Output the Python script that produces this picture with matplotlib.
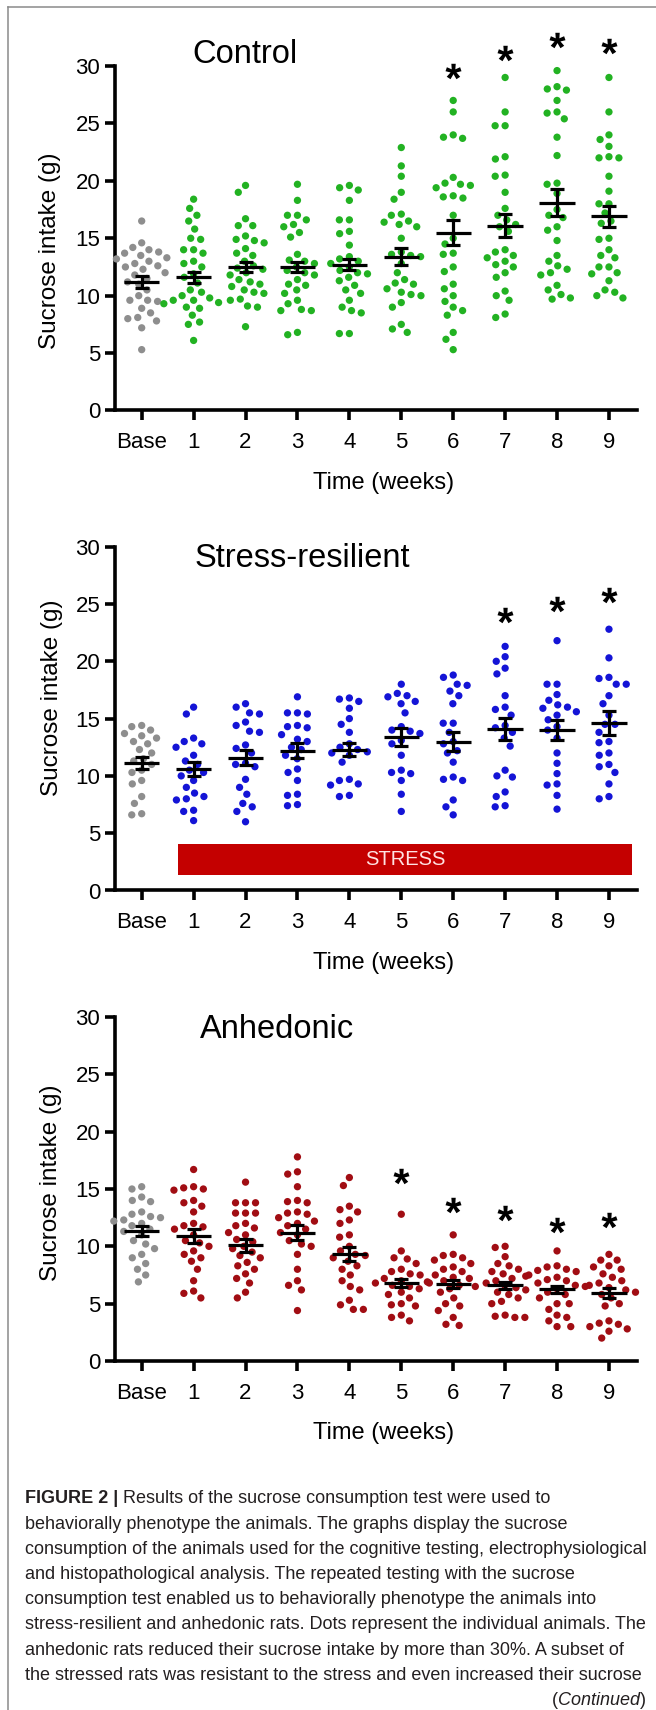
import numpy as np
import matplotlib
matplotlib.use("Agg")
import matplotlib.pyplot as plt
from matplotlib.patches import Rectangle
from matplotlib.lines import Line2D
from matplotlib.path import Path
from matplotlib.textpath import TextPath
from matplotlib.font_manager import FontProperties

plt.rcParams['font.family'] = ['Liberation Sans', 'DejaVu Sans']

# ---------------- data ----------------
categories = ["Base", "1", "2", "3", "4", "5", "6", "7", "8", "9"]
yticks = [0, 5, 10, 15, 20, 25, 30]
panel_titles = ["Control", "Stress-resilient", "Anhedonic"]

control_points = [
    [16.5, 14.6, 14.2, 14.0, 13.8, 13.7, 13.5, 13.3, 13.2, 13.0, 12.8, 12.6, 12.5, 12.3, 12.0, 11.8,
     11.5, 11.2, 11.0, 10.5, 10.0, 9.6, 9.6, 9.5, 8.9, 8.5, 8.1, 8.0, 7.8, 7.2, 5.3],
    [18.4, 17.6, 17.0, 16.5, 15.8, 15.0, 14.9, 14.0, 14.0, 13.7, 13.0, 12.8, 12.5, 11.9, 11.6, 11.1,
     10.5, 10.3, 10.0, 9.8, 9.6, 9.6, 9.4, 9.3, 9.0, 8.9, 8.3, 7.7, 7.5, 6.1],
    [19.6, 19.0, 16.7, 16.1, 16.1, 15.2, 14.9, 14.8, 14.6, 14.1, 13.7, 13.5, 13.0, 12.6, 12.4, 12.3,
     12.0, 11.8, 11.4, 11.2, 11.0, 10.8, 10.5, 10.3, 10.2, 9.7, 9.6, 9.1, 9.0, 7.3],
    [19.7, 18.3, 17.0, 17.0, 16.6, 16.2, 16.0, 15.5, 15.1, 13.6, 13.1, 13.0, 12.8, 12.5, 12.2, 12.0,
     11.8, 11.4, 11.0, 10.9, 10.5, 10.2, 9.6, 9.3, 8.8, 8.7, 8.7, 6.8, 6.6],
    [19.6, 19.4, 19.2, 18.3, 16.6, 16.6, 15.6, 15.4, 14.4, 13.4, 13.2, 13.0, 12.8, 12.5, 12.2, 12.0,
     11.9, 11.6, 11.3, 10.9, 10.5, 10.2, 9.6, 9.0, 8.7, 8.5, 6.7, 6.7],
    [22.9, 21.3, 20.4, 19.0, 18.4, 17.1, 17.0, 16.5, 16.4, 16.2, 16.0, 15.0, 13.8, 13.6, 13.5, 13.4,
     12.8, 12.0, 11.4, 11.1, 11.0, 10.6, 10.3, 10.1, 10.0, 9.4, 9.0, 7.5, 7.1, 6.8],
    [27.0, 26.0, 24.0, 23.8, 23.7, 20.3, 19.8, 19.7, 19.6, 19.4, 18.7, 18.6, 18.5, 17.0, 15.0, 14.5,
     13.7, 13.6, 12.5, 12.1, 11.0, 10.6, 10.0, 9.5, 9.0, 8.7, 8.3, 6.8, 6.2, 5.3],
    [29.0, 26.0, 24.8, 24.8, 22.1, 21.9, 20.5, 20.4, 19.0, 17.6, 17.0, 16.6, 16.2, 16.0, 15.6, 14.0,
     13.8, 13.5, 13.3, 13.0, 12.7, 12.5, 12.0, 11.6, 10.4, 10.0, 9.6, 8.4, 8.1],
    [29.6, 28.2, 28.0, 27.9, 27.0, 26.0, 25.9, 25.4, 23.8, 22.2, 19.8, 19.7, 18.9, 17.5, 17.0, 16.8,
     16.0, 15.7, 14.8, 13.5, 13.0, 12.6, 12.3, 12.0, 11.8, 10.9, 10.5, 10.1, 9.8, 9.7],
    [29.0, 26.0, 24.0, 23.6, 23.0, 22.1, 22.0, 22.0, 20.4, 19.1, 18.0, 18.0, 17.2, 16.5, 16.3, 15.0,
     14.9, 14.0, 13.5, 13.3, 12.5, 12.5, 12.0, 11.9, 11.3, 10.5, 10.3, 10.0, 9.8],
]
control_mean = [11.2, 11.6, 12.5, 12.5, 12.7, 13.4, 15.5, 16.1, 18.1, 16.9]
control_sem = [0.49, 0.5, 0.47, 0.47, 0.5, 0.73, 1.13, 0.97, 1.19, 0.94]
control_sig_weeks = [6, 7, 8, 9]
control_sig_y = [29.6, 31.1, 32.3, 31.7]

resilient_points = [
    [14.4, 14.3, 14.0, 13.7, 13.5, 13.3, 13.0, 12.8, 12.3, 12.0, 11.5, 11.3, 11.0, 10.5, 10.3, 9.6,
     9.3, 8.2, 7.6, 6.7, 6.6],
    [16.0, 15.4, 13.3, 13.0, 12.8, 12.5, 11.8, 11.3, 11.0, 10.5, 10.3, 10.0, 9.6, 9.0, 8.5, 8.2,
     8.0, 7.9, 7.0, 6.9, 6.1],
    [16.3, 16.0, 15.5, 15.4, 14.7, 14.4, 13.9, 13.8, 12.7, 12.4, 12.0, 11.1, 11.0, 10.8, 9.7, 9.0,
     8.4, 7.6, 7.3, 6.9, 6.0],
    [16.9, 15.5, 15.5, 15.4, 14.4, 14.3, 14.2, 13.6, 13.2, 13.0, 12.5, 12.3, 11.8, 11.5, 10.6, 10.3,
     9.6, 8.4, 8.3, 7.5, 7.4],
    [16.8, 16.7, 16.5, 15.9, 15.0, 14.5, 13.8, 12.8, 12.5, 12.3, 12.1, 12.0, 11.8, 11.2, 9.7, 9.6,
     9.3, 9.2, 8.3, 8.2],
    [18.0, 17.2, 17.0, 16.9, 16.5, 16.3, 15.5, 14.3, 14.0, 13.9, 13.7, 13.1, 12.8, 11.8, 10.5, 10.3,
     10.2, 9.6, 8.4, 6.9],
    [18.8, 18.6, 18.0, 17.9, 17.4, 17.0, 16.3, 14.6, 14.6, 13.8, 13.0, 12.8, 12.2, 12.0, 11.2, 9.9,
     9.7, 9.6, 7.9, 7.3, 6.6],
    [21.3, 20.4, 20.0, 19.4, 18.9, 17.0, 16.0, 15.8, 15.3, 14.4, 14.2, 13.8, 13.3, 12.6, 10.5, 10.0,
     9.9, 8.6, 8.2, 7.4, 7.3],
    [21.8, 18.0, 18.0, 17.1, 16.6, 16.2, 16.0, 15.9, 15.6, 15.3, 14.9, 14.3, 14.0, 13.3, 12.0, 11.1,
     10.2, 9.3, 9.2, 8.3, 7.1],
    [22.8, 20.3, 18.6, 18.5, 18.0, 18.0, 17.0, 16.3, 15.3, 14.5, 14.5, 13.8, 13.0, 12.9, 12.0, 11.8,
     11.0, 10.8, 10.3, 9.3, 8.2, 8.0],
]
resilient_mean = [11.1, 10.6, 11.6, 12.2, 12.3, 13.4, 13.0, 14.1, 14.0, 14.6]
resilient_sem = [0.52, 0.58, 0.68, 0.65, 0.6, 0.75, 0.87, 0.99, 0.87, 1.02]
resilient_sig_weeks = [7, 8, 9]
resilient_sig_y = [24.0, 25.0, 25.8]

anhedonic_points = [
    [15.2, 15.0, 14.3, 14.0, 13.9, 13.0, 12.8, 12.6, 12.5, 12.3, 12.2, 12.0, 11.8, 11.5, 11.3, 11.0,
     10.5, 10.2, 9.8, 9.3, 9.0, 8.5, 8.0, 7.5, 6.9],
    [16.7, 15.2, 15.1, 15.0, 14.9, 14.0, 13.8, 13.5, 13.0, 12.0, 11.8, 11.7, 11.5, 11.0, 10.5, 10.3,
     10.0, 9.6, 9.3, 9.0, 8.7, 8.0, 7.0, 6.1, 5.9, 5.5],
    [15.6, 13.8, 13.8, 13.8, 12.9, 12.9, 12.9, 12.0, 11.8, 11.6, 11.2, 11.0, 10.6, 10.4, 10.0, 9.8,
     9.5, 9.2, 9.0, 8.6, 8.3, 8.0, 7.6, 7.2, 6.8, 6.0, 5.5],
    [17.8, 16.5, 16.3, 15.2, 14.0, 13.9, 13.8, 13.0, 12.9, 12.8, 12.5, 12.2, 12.0, 11.8, 11.5, 11.2,
     11.0, 10.5, 10.2, 10.0, 9.3, 8.0, 7.0, 6.6, 6.2, 4.4],
    [16.0, 15.3, 13.5, 13.2, 13.0, 12.3, 12.0, 11.0, 10.8, 10.0, 9.6, 9.3, 9.2, 9.0, 8.7, 8.3,
     8.0, 7.5, 7.0, 6.5, 6.2, 5.3, 4.9, 4.5, 4.5],
    [12.8, 9.6, 9.0, 8.9, 8.5, 8.0, 7.8, 7.6, 7.5, 7.2, 7.0, 6.9, 6.8, 6.6, 6.5, 6.3,
     6.0, 5.8, 5.5, 5.0, 4.9, 4.8, 4.0, 3.8, 3.5],
    [11.0, 9.3, 9.2, 9.0, 8.8, 8.5, 8.2, 8.0, 7.8, 7.5, 7.3, 7.2, 7.0, 6.8, 6.6, 6.5,
     6.3, 6.0, 5.5, 5.0, 4.8, 4.4, 3.8, 3.2, 3.1],
    [10.0, 9.9, 9.1, 8.5, 8.3, 8.0, 7.8, 7.6, 7.4, 7.2, 7.0, 6.8, 6.6, 6.4, 6.2, 6.0,
     5.8, 5.5, 5.2, 5.0, 4.0, 3.9, 3.8, 3.8],
    [9.6, 8.3, 8.2, 8.0, 7.9, 7.8, 7.5, 7.3, 7.1, 7.0, 6.8, 6.6, 6.5, 6.3, 6.0, 5.8,
     5.5, 5.0, 5.0, 4.5, 4.0, 3.8, 3.5, 3.0, 3.0],
    [9.3, 8.8, 8.8, 8.3, 8.2, 8.0, 7.6, 7.3, 7.0, 6.8, 6.6, 6.4, 6.2, 6.0, 5.8, 5.5,
     5.0, 4.8, 3.5, 3.3, 3.2, 3.0, 2.8, 2.6, 2.0],
]
anhedonic_mean = [11.33, 10.9, 10.1, 11.2, 9.3, 6.8, 6.7, 6.6, 6.25, 5.9]
anhedonic_sem = [0.41, 0.65, 0.58, 0.65, 0.62, 0.39, 0.36, 0.32, 0.32, 0.44]
anhedonic_sig_weeks = [5, 6, 7, 8, 9]
anhedonic_sig_y = [16.1, 13.6, 12.9, 11.9, 12.3]

caption_lines = [
    "Results of the sucrose consumption test were used to",
    "behaviorally phenotype the animals. The graphs display the sucrose",
    "consumption of the animals used for the cognitive testing, electrophysiological",
    "and histopathological analysis. The repeated testing with the sucrose",
    "consumption test enabled us to behaviorally phenotype the animals into",
    "stress-resilient and anhedonic rats. Dots represent the individual animals. The",
    "anhedonic rats reduced their sucrose intake by more than 30%. A subset of",
    "the stressed rats was resistant to the stress and even increased their sucrose",
]

# ---------------- style ----------------
W, H = 656, 1710
fig = plt.figure(figsize=(W / 100, H / 100), dpi=100)
fig.patch.set_facecolor("white")

GRAY = "#8e8e8e"
colors = ["#22b222", "#1414d6", "#a10d13"]
AX_L, AX_W = 115, 522
XLIM = (-0.514, 9.54)
panels_px = [(66, 410.5), (546.7, 890.5), (1017, 1361)]
title_pos = [(192.5, 63), (194.6, 567), (200, 1038.3)]
ylabel_pos = [(-0.1245, 0.463), (-0.1207, 0.56), (-0.1226, 0.519)]

# asterisk marker from a text glyph (centered, CLOSEPOLY vertices neutralised)
tp = TextPath((0, 0), "*", prop=FontProperties(family="Liberation Sans", weight="bold"))
codes = tp.codes
verts = tp.vertices.copy()
real = codes != Path.CLOSEPOLY
ctr = (verts[real].min(axis=0) + verts[real].max(axis=0)) / 2
verts[~real] = ctr
star = Path(verts - ctr, codes)

DOT_D = 7.3   # px
SWARM_D = 10.0  # px


def swarm(values, px_x, px_y):
    vals = np.asarray(values, dtype=float)
    order = np.argsort(-vals, kind="stable")
    placed = []
    offs = np.zeros(len(vals))
    D2 = SWARM_D ** 2
    for i in order:
        y = vals[i] * px_y
        cands = [0.0]
        for (xj, yj) in placed:
            d = abs(y - yj)
            if d < SWARM_D:
                h = np.sqrt(D2 - d * d)
                cands += [xj + h, xj - h]
        cands = sorted(cands, key=lambda c: (round(abs(c), 6), c))
        chosen = cands[-1]
        for c in cands:
            if all((c - xj) ** 2 + (y - yj) ** 2 >= D2 - 1e-6 for xj, yj in placed):
                chosen = c
                break
        placed.append((chosen, y))
        offs[i] = chosen / px_x
    return offs


datasets = [
    (control_points, control_mean, control_sem, control_sig_weeks, control_sig_y),
    (resilient_points, resilient_mean, resilient_sem, resilient_sig_weeks, resilient_sig_y),
    (anhedonic_points, anhedonic_mean, anhedonic_sem, anhedonic_sig_weeks, anhedonic_sig_y),
]

for p, ((top, bot), (pts, means, sems, sw, sy)) in enumerate(zip(panels_px, datasets)):
    ax = fig.add_axes([AX_L / W, 1 - bot / H, AX_W / W, (bot - top) / H])
    ax.set_xlim(*XLIM)
    ax.set_ylim(0, 30)
    px_x = AX_W / (XLIM[1] - XLIM[0])
    px_y = (bot - top) / 30.0

    for spine in ["top", "right"]:
        ax.spines[spine].set_visible(False)
    for spine in ["left", "bottom"]:
        ax.spines[spine].set_linewidth(2.6)
    ax.set_xticks(range(len(categories)))
    ax.set_xticklabels(categories)
    ax.set_yticks(yticks)
    ax.tick_params(axis="both", length=7, width=2.6, labelsize=16, colors="black")
    ax.tick_params(axis="x", pad=8.5)
    ax.tick_params(axis="y", pad=3.6)

    if p == 1:
        ax.add_patch(Rectangle((0.7, 1.35), 9.44 - 0.7, 4.05 - 1.35, facecolor="#c40000",
                               edgecolor="none", zorder=1))
        ax.text((0.7 + 9.44) / 2, 2.7, "STRESS", ha="center", va="center", fontsize=14.5,
                color="#ffe2e2", zorder=2)

    for i, vals in enumerate(pts):
        offs = swarm(vals, px_x, px_y)
        col = GRAY if i == 0 else colors[p]
        ax.scatter(i + offs, vals, s=DOT_D ** 2 * (72 / 100) ** 2, color=col, edgecolors="none",
                   zorder=3, clip_on=False)
    xs = np.arange(len(categories))
    ax.hlines(means, xs - 0.34, xs + 0.34, colors="black", linewidth=2.3, zorder=4)
    ax.errorbar(xs, means, yerr=sems, fmt="none", ecolor="black", elinewidth=2.3,
                capsize=5, capthick=2.3, zorder=4)
    ax.plot(sw, sy, linestyle="none", marker=star, markersize=11.5, color="black",
            markeredgewidth=0, clip_on=False, zorder=5)

    ax.set_ylabel("Sucrose intake (g)", fontsize=17.5, va="center")
    ax.yaxis.set_label_coords(*ylabel_pos[p])
    ax.set_xlabel("Time (weeks)", fontsize=17, va="center")
    ax.xaxis.set_label_coords(0.515, -72 / (bot - top))

    tx, ty = title_pos[p]
    fig.text(tx / W, 1 - ty / H, panel_titles[p], fontsize=23.5, ha="left", va="baseline")

# ---------------- frame ----------------
fig.add_artist(Line2D([8.3 / W, 8.3 / W], [0, 1 - 6.7 / H], transform=fig.transFigure,
                      color="#8a8a8a", linewidth=1.1))
fig.add_artist(Line2D([8.3 / W, 1.0], [1 - 6.7 / H, 1 - 6.7 / H], transform=fig.transFigure,
                      color="#8a8a8a", linewidth=1.1))

# ---------------- caption ----------------
renderer = fig.canvas.get_renderer()
cap_family = ["Liberation Sans Narrow", "Liberation Sans"]
probe = fig.text(0, 0, caption_lines[2], fontsize=13.5, family=cap_family)
w = probe.get_window_extent(renderer).width
probe.remove()
cap_size = 13.5 * 621.0 / w
CAP_COLOR = "#231f20"
x0 = 25 / W
base0 = 1503.3
step = 25.2
for k, line in enumerate(caption_lines):
    yb = 1 - (base0 + k * step) / H
    if k == 0:
        b = fig.text(x0, yb, "FIGURE 2 |", fontsize=cap_size, family=cap_family,
                     weight="bold", color=CAP_COLOR, va="baseline")
        bb = b.get_window_extent(renderer)
        fig.text(bb.x1 / W, yb, " " + line, fontsize=cap_size, family=cap_family,
                 color=CAP_COLOR, va="baseline")
    else:
        fig.text(x0, yb, line, fontsize=cap_size, family=cap_family, color=CAP_COLOR,
                 va="baseline")

yb = 1 - (base0 + 8 * step) / H
t3 = fig.text(646 / W, yb, ")", fontsize=cap_size, family=cap_family, color=CAP_COLOR,
              va="baseline", ha="right")
e3 = t3.get_window_extent(renderer)
t2 = fig.text(e3.x0 / W, yb, "Continued", fontsize=cap_size, family=cap_family, color=CAP_COLOR,
              va="baseline", ha="right", style="italic")
e2 = t2.get_window_extent(renderer)
fig.text(e2.x0 / W, yb, "(", fontsize=cap_size, family=cap_family, color=CAP_COLOR,
         va="baseline", ha="right")

fig.savefig("out.png", dpi=100, facecolor="white")
